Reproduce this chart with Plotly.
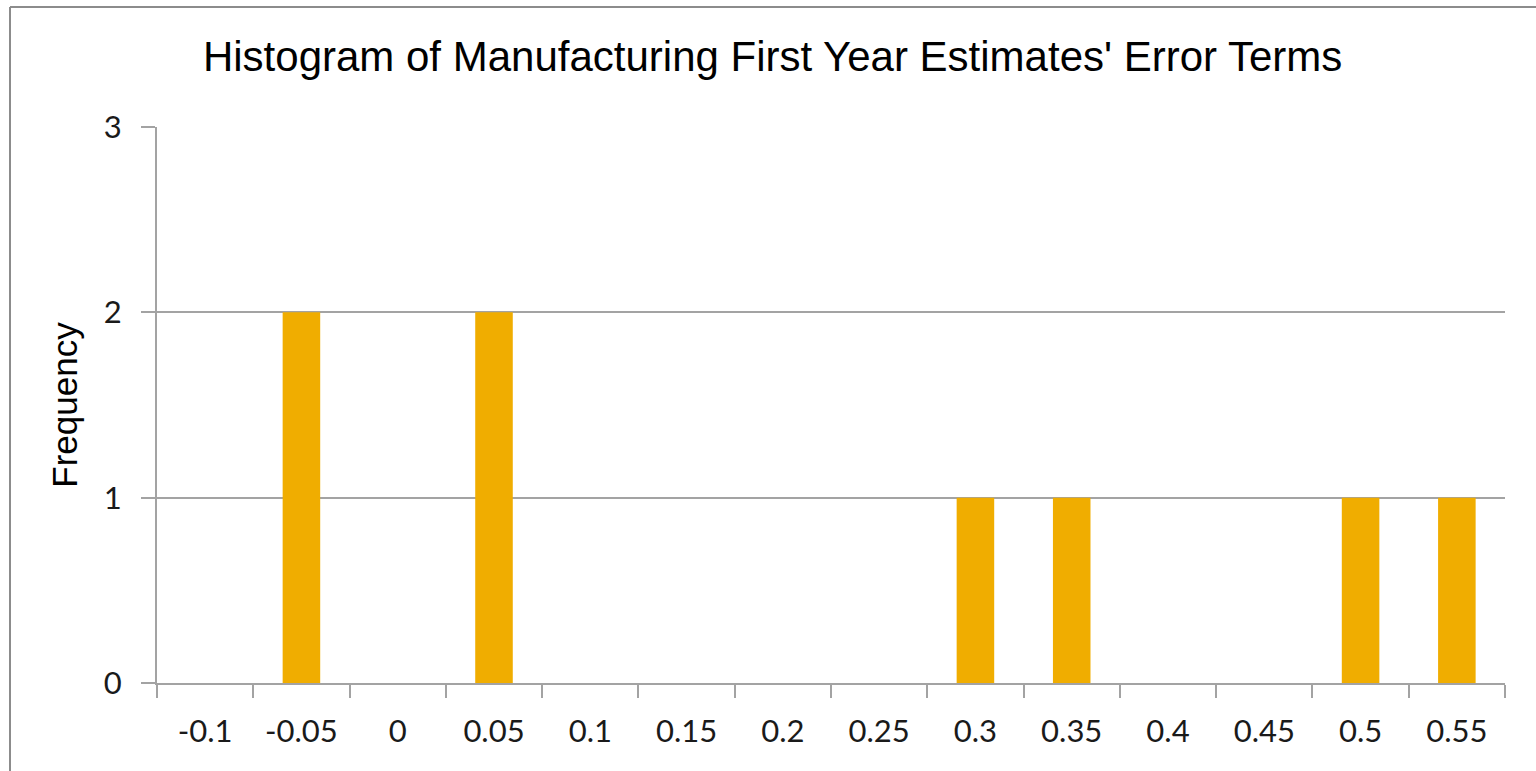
import plotly.graph_objects as go

categories = ["-0.1", "-0.05", "0", "0.05", "0.1", "0.15", "0.2", "0.25",
              "0.3", "0.35", "0.4", "0.45", "0.5", "0.55"]
frequency = [0, 2, 0, 2, 0, 0, 0, 0, 1, 1, 0, 0, 1, 1]
y_ticks = [0, 1, 2, 3]

title_text = "Histogram of Manufacturing First Year Estimates' Error Terms"
y_title = "Frequency"

BAR = "#F0AD00"
GRID = "#A3A3A3"

fig = go.Figure(go.Bar(x=categories, y=frequency, marker=dict(color=BAR, line=dict(width=0)),
                       hoverinfo="x+y"))

W, H = 1536, 771
L, R, T, B = 157, 31, 127, 88
pw = W - L - R
ph = H - T - B

fig.update_layout(
    width=W, height=H,
    margin=dict(l=L, r=R, t=T, b=B, pad=0),
    paper_bgcolor="white", plot_bgcolor="white",
    bargap=0.61,
    showlegend=False,
    title=dict(text=title_text, x=0.503, xanchor="center", y=1 - 56 / H, yanchor="middle",
               font=dict(family="Liberation Sans, Arial", size=42, color="#000000")),
    xaxis=dict(type="category", showgrid=False, showline=True, linecolor=GRID, linewidth=2,
               ticks="outside", tickson="boundaries", ticklen=13, tickcolor=GRID, tickwidth=2,
               tickfont=dict(family="Lato, Open Sans", size=31, color="#1a1a1a"),
               ticklabelstandoff=20, zeroline=False),
    yaxis=dict(range=[0, 3], tickvals=y_ticks, showgrid=True, gridcolor=GRID, gridwidth=2,
               showline=True, linecolor=GRID, linewidth=2, ticks="outside", ticklen=14,
               tickcolor=GRID, tickwidth=2, zeroline=False,
               tickfont=dict(family="Lato, Open Sans", size=31, color="#1a1a1a"),
               ticklabelstandoff=13,
               title=dict(text=y_title, standoff=16,
                          font=dict(family="Liberation Sans, Arial", size=35, color="#000000"))),
)

# outer chart border (only top and left edges visible in the reference)
bx = (10 - L) / pw
by = (H - B - 7) / ph
fig.add_shape(type="line", xref="paper", yref="paper", x0=bx, x1=bx, y0=by, y1=-1,
              line=dict(color="#8C8C8C", width=2))
fig.add_shape(type="line", xref="paper", yref="paper", x0=bx, x1=2, y0=by, y1=by,
              line=dict(color="#8C8C8C", width=2))

fig.write_html("out.html")
